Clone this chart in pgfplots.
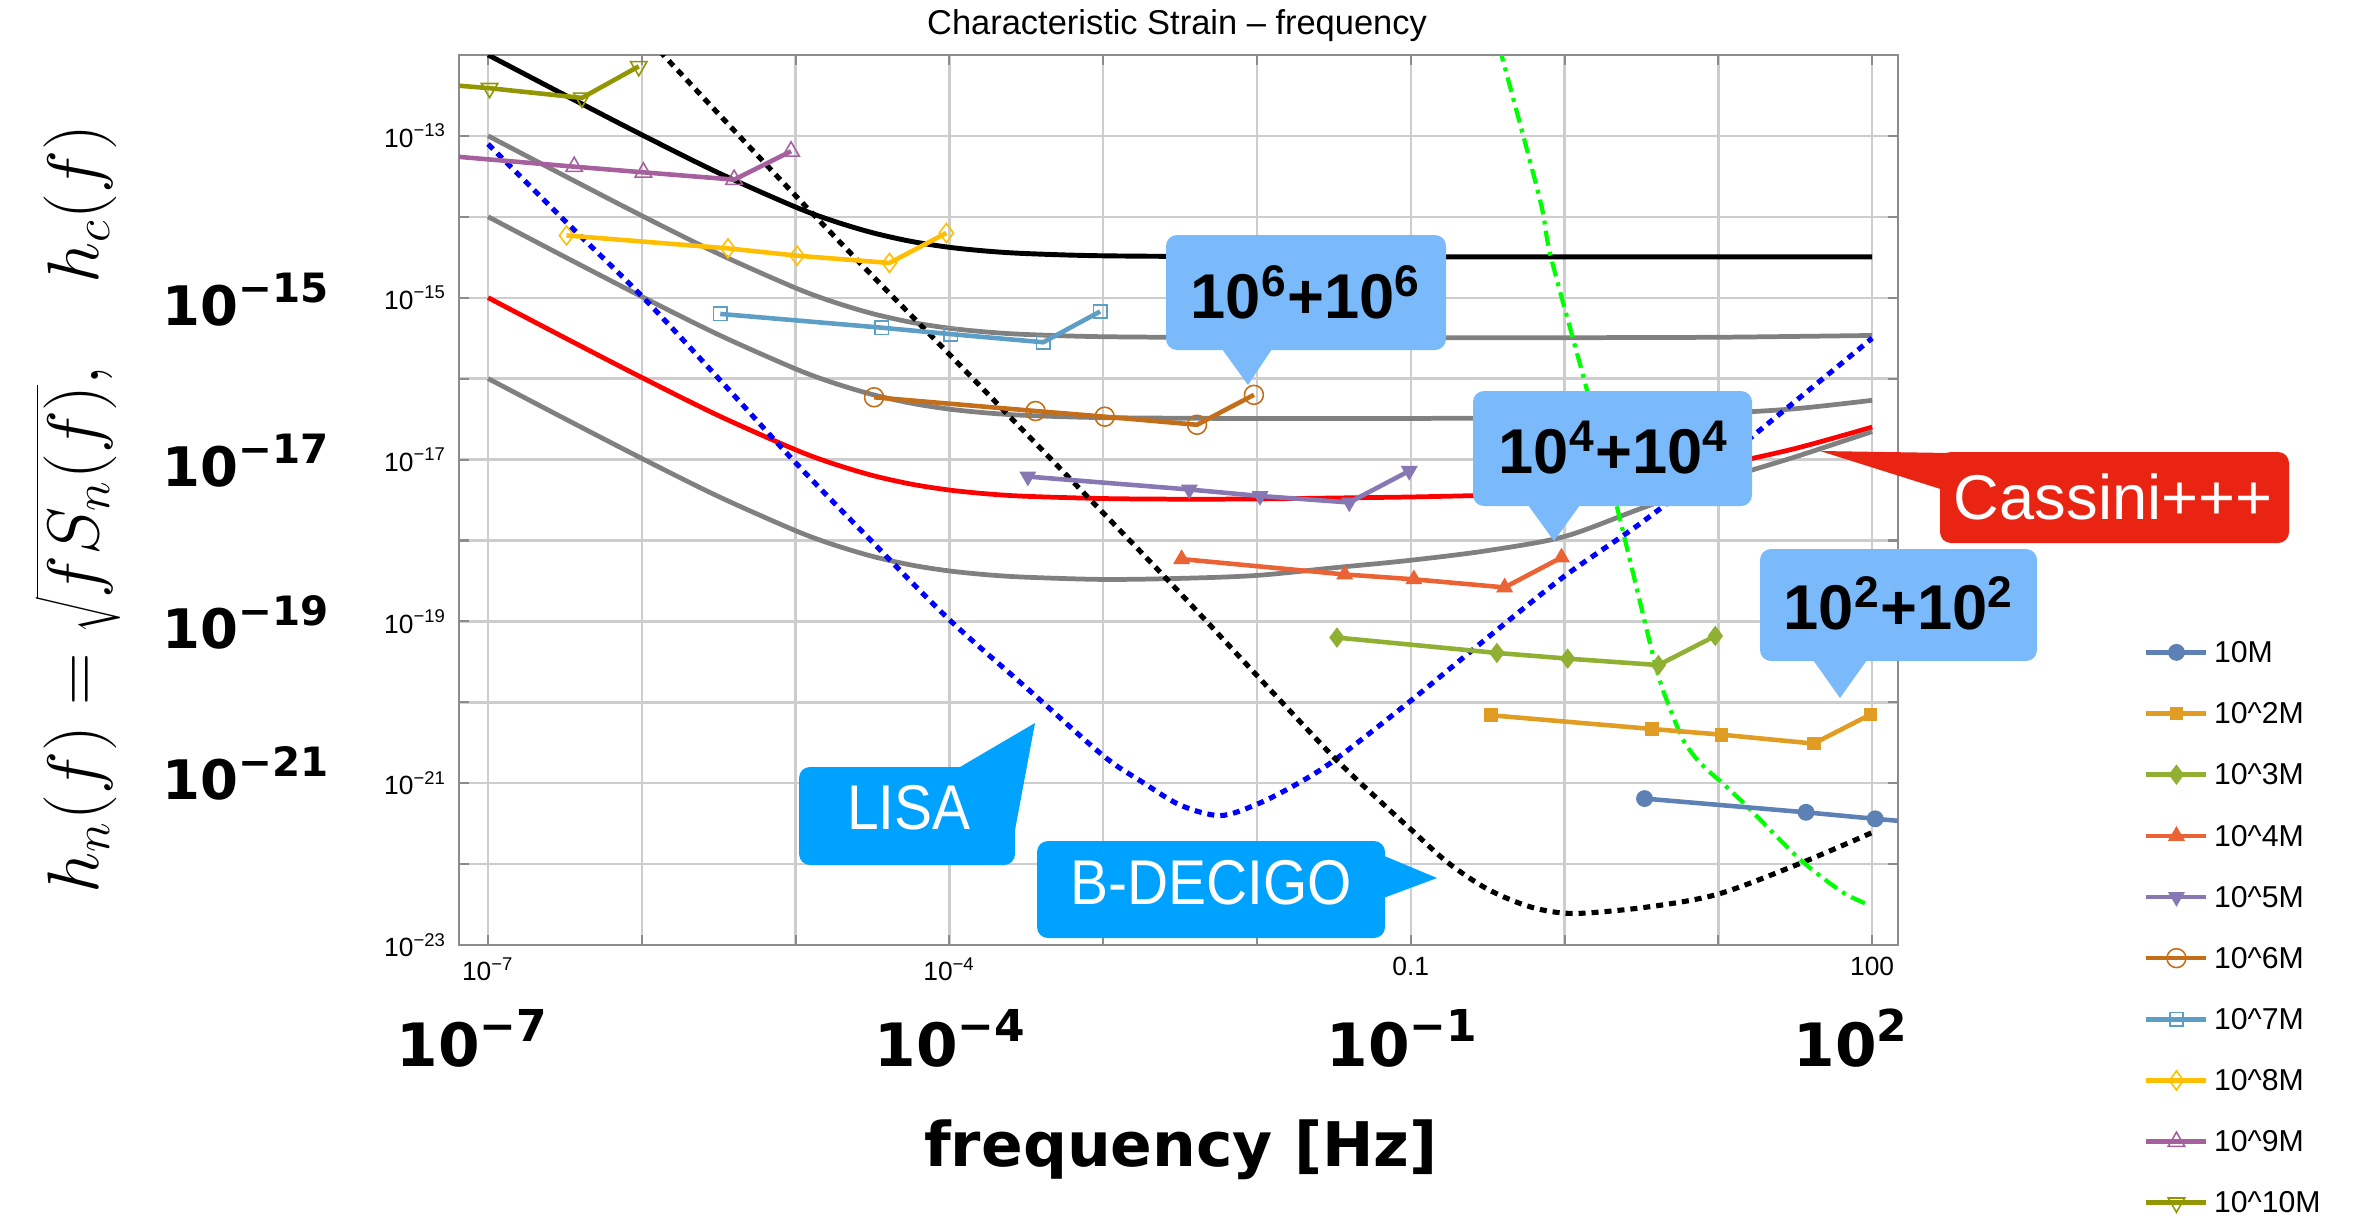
\documentclass[border=0pt]{standalone}
\usepackage{pgfplots}
\pgfplotsset{compat=1.18}
\usepackage{fontspec}
\setmainfont{Liberation Sans}
\newfontfamily\dejavu{DejaVu Sans}
\newfontfamily\narrowfont[FakeStretch=0.9]{Liberation Sans}

\definecolor{c1}{RGB}{94,129,181}
\definecolor{c2}{RGB}{225,156,36}
\definecolor{c3}{RGB}{143,176,50}
\definecolor{c4}{RGB}{235,98,53}
\definecolor{c5}{RGB}{135,120,179}
\definecolor{c6}{RGB}{197,110,26}
\definecolor{c7}{RGB}{93,158,199}
\definecolor{c8}{RGB}{255,191,0}
\definecolor{c9}{RGB}{165,96,157}
\definecolor{c10}{RGB}{146,150,0}
\definecolor{noisegray}{RGB}{128,128,128}
\definecolor{gridgray}{RGB}{205,205,205}
\definecolor{framegray}{RGB}{140,140,140}
\definecolor{lisablue}{RGB}{0,162,255}
\definecolor{lightcall}{RGB}{122,186,250}
\definecolor{cassred}{RGB}{234,36,18}

\newcommand\ybigtick[1]{{\dejavu\bfseries\fontsize{15.5}{17}\selectfont 10\raisebox{0.42em}{\fontsize{11.5}{11.5}\selectfont #1}}}
\newcommand\xbigtick[1]{{\dejavu\bfseries\fontsize{17}{19}\selectfont 10\raisebox{0.42em}{\fontsize{12.5}{12.5}\selectfont #1}}}

\begin{document}
\begin{tikzpicture}
\begin{axis}[
  at={(0,0)}, anchor=south west,
  scale only axis, width=14.39cm, height=8.9cm,
  xmode=log, ymode=log,
  xmin=6.47e-8, xmax=147.2, ymin=1e-23, ymax=1e-12,
  xtick={1e-7,1e-6,1e-5,1e-4,1e-3,1e-2,1e-1,1,10,100},
  xticklabels={10\textsuperscript{−7},,,10\textsuperscript{−4},,,0.1,,,100},
  ytick={1e-23,1e-22,1e-21,1e-20,1e-19,1e-18,1e-17,1e-16,1e-15,1e-14,1e-13,1e-12},
  yticklabels={10\textsuperscript{−23},,10\textsuperscript{−21},,10\textsuperscript{−19},,10\textsuperscript{−17},,10\textsuperscript{−15},,10\textsuperscript{−13},},
  xminorticks=false, yminorticks=false,
  tick pos=both, tick align=inside,
  major tick length=0.1cm,
  grid=major,
  major grid style={draw=gridgray, line width=0.7pt},
  axis line style={draw=framegray, line width=0.6pt},
  tick style={draw=framegray, line width=0.6pt},
  tick label style={font=\fontsize{7.5}{8}\selectfont},
  legend cell align=left,
  legend style={at={(1.1706,0.347)}, anchor=north west, draw=none, fill=none,
    inner sep=0pt, font=\fontsize{8.6}{9}\selectfont, row sep=8.6pt,
    nodes={inner sep=1.5pt, text height=5.8pt, text depth=0pt}},
]
% ---------- noise curves ----------
\addplot[black, line width=1.4pt, smooth, forget plot] coordinates {
(1e-7,1.0032e-12) (3.162e-7,3.194e-13) (1e-6,1.032e-13) (3.162e-6,3.482e-14) (1e-5,1.32e-14)
(1.778e-5,8.823e-15) (3.162e-5,6.362e-15) (5.623e-5,4.978e-15) (1e-4,4.2e-15) (1.778e-4,3.762e-15)
(3.162e-4,3.516e-15) (1e-3,3.3e-15) (1e-2,3.21e-15) (1e-1,3.2e-15) (1,3.2e-15) (100,3.2e-15)};
\addplot[noisegray, line width=1.35pt, smooth, forget plot] coordinates {
(1e-7,1.0032e-13) (3.162e-7,3.194e-14) (1e-6,1.032e-14) (3.162e-6,3.482e-15) (1e-5,1.32e-15)
(1.778e-5,8.823e-16) (3.162e-5,6.362e-16) (5.623e-5,4.978e-16) (1e-4,4.2e-16) (1.778e-4,3.762e-16)
(3.162e-4,3.516e-16) (1e-3,3.3e-16) (1e-2,3.21e-16) (1e-1,3.21e-16) (1,3.21e-16) (10,3.25e-16) (100,3.42e-16)};
\addplot[noisegray, line width=1.35pt, smooth, forget plot] coordinates {
(1e-7,1.0032e-14) (3.162e-7,3.194e-15) (1e-6,1.032e-15) (3.162e-6,3.482e-16) (1e-5,1.32e-16)
(1.778e-5,8.823e-17) (3.162e-5,6.362e-17) (5.623e-5,4.978e-17) (1e-4,4.2e-17) (1.778e-4,3.762e-17)
(3.162e-4,3.516e-17) (1e-3,3.3e-17) (1e-2,3.215e-17) (1e-1,3.225e-17) (1,3.28e-17) (3.162,3.42e-17)
(10,3.72e-17) (31.62,4.25e-17) (100,5.4e-17)};
\addplot[red, line width=1.35pt, smooth, forget plot] coordinates {
(1e-7,1.0032e-15) (3.162e-7,3.194e-16) (1e-6,1.032e-16) (3.162e-6,3.482e-17) (1e-5,1.32e-17)
(1.778e-5,8.823e-18) (3.162e-5,6.362e-18) (5.623e-5,4.978e-18) (1e-4,4.2e-18) (1.778e-4,3.762e-18)
(3.162e-4,3.516e-18) (1e-3,3.3e-18) (3.162e-3,3.24e-18) (1e-2,3.26e-18) (3.162e-2,3.35e-18)
(1e-1,3.45e-18) (0.3162,3.63e-18) (1,4.0e-18) (3.162,5.4e-18) (10,8.4e-18) (31.62,1.37e-17) (100,2.52e-17)};
\addplot[noisegray, line width=1.35pt, smooth, forget plot] coordinates {
(1e-7,1.0032e-16) (3.162e-7,3.194e-17) (1e-6,1.032e-17) (3.162e-6,3.482e-18) (1e-5,1.32e-18)
(1.778e-5,8.823e-19) (3.162e-5,6.362e-19) (5.623e-5,4.978e-19) (1e-4,4.2e-19) (1.778e-4,3.762e-19)
(3.162e-4,3.516e-19) (1e-3,3.3e-19) (3.162e-3,3.4e-19) (1e-2,3.7e-19) (3.162e-2,4.6e-19)
(1e-1,5.7e-19) (0.3162,7.5e-19) (1,1.12e-18) (3.162,2.5e-18) (10,5.5e-18) (31.62,1.08e-17) (100,2.22e-17)};
% LISA
\addplot[blue, line width=1.45pt, dash pattern=on 2pt off 1.7pt, smooth, forget plot] coordinates {
(1e-7,7.94e-14) (3.162e-7,8.91e-15) (1e-6,1.047e-15) (3.162e-6,1e-16) (1e-5,9.12e-18)
(3.162e-5,9.55e-19) (1e-4,1.047e-19) (3.162e-4,1.514e-20) (1e-3,2.188e-21) (1.778e-3,1.047e-21)
(3.162e-3,5.37e-22) (5.754e-3,3.98e-22) (1e-2,5.5e-22) (1.778e-2,9.55e-22) (3.162e-2,1.905e-21)
(0.1,1.047e-20) (0.3162,6.31e-20) (1,3.63e-19) (3.162,1.66e-18) (10,8.91e-18) (31.62,5.25e-17) (100,3.162e-16)};
% B-DECIGO
\addplot[black, line width=1.45pt, dash pattern=on 2pt off 1.7pt, smooth, forget plot] coordinates {
(1e-6,1.9e-12) (1.38e-6,1e-12) (3.162e-6,1.862e-13) (1e-5,1.82e-14) (3.162e-5,1.862e-15)
(1e-4,1.995e-16) (3.162e-4,2.089e-17) (1e-3,2.188e-18) (3.162e-3,2.239e-19) (1e-2,2.138e-20)
(3.162e-2,2.089e-21) (6.457e-2,5.754e-22) (0.1,2.692e-22) (0.1738,1.047e-22) (0.3162,4.898e-23)
(0.6026,2.951e-23) (1.148,2.455e-23) (3.467,2.951e-23) (10,4.266e-23) (33.11,1e-22) (100,2.455e-22)};
% green dash-dot
\addplot[green, line width=1.2pt, dash pattern=on 4.3pt off 1.8pt on 1.1pt off 1.8pt, smooth, forget plot] coordinates {
(0.33,3.0e-12) (0.389,1e-12) (0.692,1.622e-14) (0.813,3.236e-15) (1.38,7.94e-17) (2.239,2.188e-18)
(3.89,2.951e-20) (4.786,8.913e-21) (5.888,3.467e-21) (7.079,2.089e-21) (8.511,1.445e-21)
(10.23,1.072e-21) (12.59,7.413e-22) (15.85,4.898e-22)
(33.88,1.148e-22) (64.57,4.467e-23) (97.72,3.09e-23)};
% ---------- series ----------
\addplot[c1, line width=1.3pt, mark=*, mark size=2.2pt, mark options={solid, line width=0.4pt}] coordinates {
(3.311,6.457e-22) (37.15,4.365e-22) (104.7,3.631e-22) (416.9,2.884e-22) (977.2,6.457e-22)};
\addlegendentry{10M}
\addplot[c2, line width=1.3pt, mark=square*, mark size=1.75pt, mark options={solid, line width=0.4pt}] coordinates {
(0.3311,6.918e-21) (3.715,4.677e-21) (10.47,3.981e-21) (41.69,3.09e-21) (97.72,7.079e-21)};
\addlegendentry{10\textasciicircum 2M}
\addplot[c3, line width=1.3pt, mark=diamond*, mark size=2.6pt, mark options={solid, line width=0.4pt}] coordinates {
(0.03311,6.31e-20) (0.3631,4.074e-20) (1.047,3.467e-20) (4.074,2.884e-20) (9.55,6.607e-20)};
\addlegendentry{10\textasciicircum 3M}
\addplot[c4, line width=1.3pt, mark=triangle*, mark size=2.4pt, mark options={solid, line width=0.4pt}] coordinates {
(3.236e-3,5.888e-19) (3.715e-2,3.802e-19) (0.1047,3.311e-19) (0.4074,2.63e-19) (0.955,6.166e-19)};
\addlegendentry{10\textasciicircum 4M}
\addplot[c5, line width=1.3pt, mark=triangle*, mark size=2.4pt, mark options={solid, line width=0.4pt, rotate=180}] coordinates {
(3.236e-4,6.166e-18) (3.631e-3,4.266e-18) (1.047e-2,3.548e-18) (3.981e-2,2.951e-18) (9.772e-2,7.244e-18)};
\addlegendentry{10\textasciicircum 5M}
\addplot[c6, line width=1.3pt, mark=o, mark size=2.7pt, mark options={solid, line width=0.45pt}] coordinates {
(3.236e-5,5.888e-17) (3.631e-4,3.981e-17) (1.023e-3,3.388e-17) (4.074e-3,2.692e-17) (9.55e-3,6.31e-17)};
\addlegendentry{10\textasciicircum 6M}
\addplot[c7, line width=1.3pt, mark=square, mark size=1.9pt, mark options={solid, line width=0.45pt}] coordinates {
(3.236e-6,6.31e-16) (3.631e-5,4.266e-16) (1.023e-4,3.548e-16) (4.074e-4,2.818e-16) (9.55e-4,6.761e-16)};
\addlegendentry{10\textasciicircum 7M}
\addplot[c8, line width=1.3pt, mark=diamond, mark size=2.7pt, mark options={solid, line width=0.45pt}] coordinates {
(3.236e-7,5.888e-15) (3.631e-6,4.074e-15) (1.023e-5,3.311e-15) (4.074e-5,2.692e-15) (9.55e-5,6.31e-15)};
\addlegendentry{10\textasciicircum 8M}
\addplot[c9, line width=1.3pt, mark=triangle, mark size=2.7pt, mark options={solid, line width=0.45pt}] coordinates {
(3.236e-8,6.166e-14) (3.631e-7,4.169e-14) (1.023e-6,3.548e-14) (3.981e-6,2.884e-14) (9.333e-6,6.457e-14)};
\addlegendentry{10\textasciicircum 9M}
\addplot[c10, line width=1.3pt, mark=triangle, mark size=2.7pt, mark options={solid, line width=0.45pt, rotate=180}] coordinates {
(3.236e-9,6.761e-13) (3.631e-8,4.571e-13) (1.023e-7,3.89e-13) (4.074e-7,2.951e-13) (9.55e-7,7.244e-13)};
\addlegendentry{10\textasciicircum 10M}
\end{axis}

\begin{scope}[x=0.1mm,y=-0.1mm,xshift=-45.9mm,yshift=94.5mm]
% title
\node[font=\fontsize{9.8}{11}\selectfont] at (1177,26) {Characteristic Strain – frequency};
% y label
\node[rotate=90,font=\fontsize{19.8}{22}\selectfont] at (78,509) {$h_n(f) = \sqrt{f S_n(f)},\quad h_c(f)$};
% big y tick labels
\node[anchor=east,inner sep=0pt] at (329,300) {\ybigtick{−15}};
\node[anchor=east,inner sep=0pt] at (329,461) {\ybigtick{−17}};
\node[anchor=east,inner sep=0pt] at (329,622) {\ybigtick{−19}};
\node[anchor=east,inner sep=0pt] at (329,773) {\ybigtick{−21}};
% big x tick labels
\node[anchor=west,inner sep=0pt] at (396,1038) {\xbigtick{−7}};
\node[anchor=west,inner sep=0pt] at (874,1038) {\xbigtick{−4}};
\node[anchor=west,inner sep=0pt] at (1326,1038) {\xbigtick{−1}};
\node[anchor=west,inner sep=0pt] at (1793,1038) {\xbigtick{2}};
% x label
\node[font=\dejavu\bfseries\fontsize{17.5}{20}\selectfont] at (1181,1150) {frequency [Hz]};
% callouts
\fill[lightcall, rounded corners=1.1mm] (1166,235) rectangle (1446,350);
\fill[lightcall] (1222,349) -- (1248,385) -- (1272,349) -- cycle;
\node[font=\bfseries\fontsize{18}{20}\selectfont] at (1306,292) {10\textsuperscript{6}+10\textsuperscript{6}};
\fill[lightcall, rounded corners=1.1mm] (1473,391) rectangle (1752,506);
\fill[lightcall] (1528,505) -- (1554,541) -- (1580,505) -- cycle;
\node[font=\bfseries\fontsize{18}{20}\selectfont] at (1614,448) {10\textsuperscript{4}+10\textsuperscript{4}};
\fill[lightcall, rounded corners=1.1mm] (1760,549) rectangle (2037,661);
\fill[lightcall] (1813,660) -- (1840,698) -- (1867,660) -- cycle;
\node[font=\bfseries\fontsize{18}{20}\selectfont] at (1899,603) {10\textsuperscript{2}+10\textsuperscript{2}};
\fill[cassred, rounded corners=1.1mm] (1940,452) rectangle (2289,543);
\fill[cassred] (1950,453) -- (1820,451) -- (1950,492) -- cycle;
\node[text=white, font=\fontsize{18}{20}\selectfont] at (2113,497) {Cassini+++};
\fill[lisablue, rounded corners=1.1mm] (799,767) rectangle (1015,865);
\fill[lisablue] (960,767) -- (1035,723) -- (1015,830) -- (960,830) -- cycle;
\node[text=white, font=\narrowfont\fontsize{18}{20}\selectfont] at (909,808) {LISA};
\fill[lisablue, rounded corners=1.1mm] (1037,841) rectangle (1385,938);
\fill[lisablue] (1370,850) -- (1437,878) -- (1370,903) -- cycle;
\node[text=white, font=\narrowfont\fontsize{18}{20}\selectfont] at (1211,883) {B-DECIGO};
\end{scope}

\pgfresetboundingbox
\begin{scope}[x=0.1mm,y=-0.1mm,xshift=-45.9mm,yshift=94.5mm]
\path (0,0) rectangle (2363,1219);
\end{scope}
\end{tikzpicture}
\end{document}
